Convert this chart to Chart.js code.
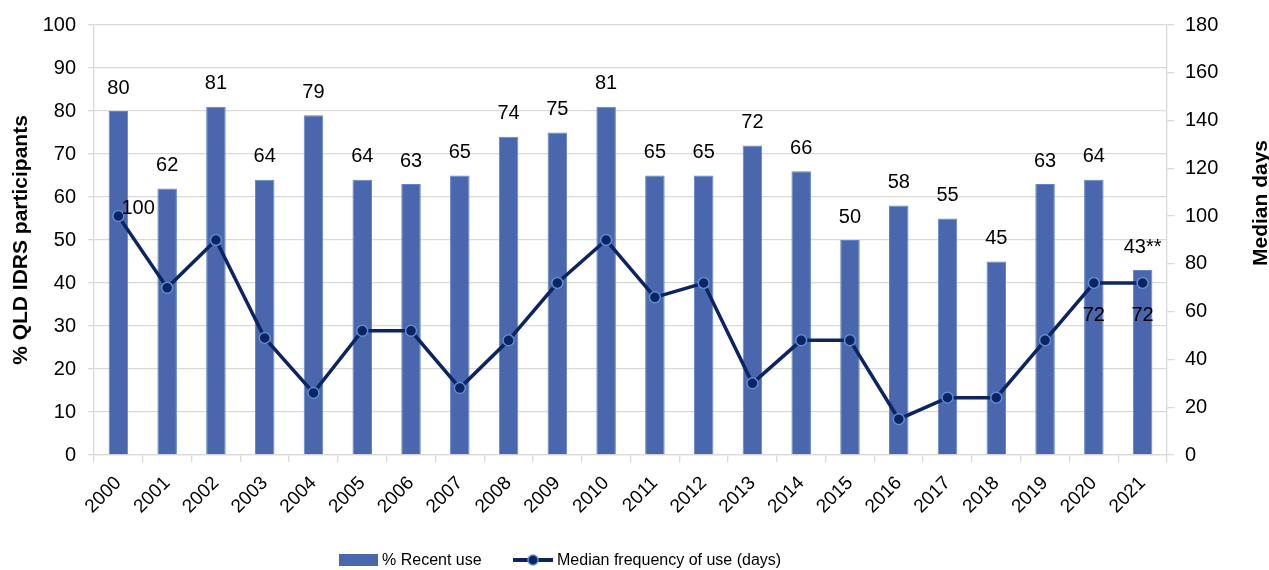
<!DOCTYPE html>
<html>
<head>
<meta charset="utf-8">
<script src="https://cdn.jsdelivr.net/npm/chart.js@4.4.1/dist/chart.umd.min.js"></script>
<style>
  html, body { margin: 0; padding: 0; background: #fff; }
  canvas { display: block; }
</style>
</head>
<body>
<canvas id="chart" width="1269" height="570"></canvas>
<script>
const years = ['2000', '2001', '2002', '2003', '2004', '2005', '2006', '2007', '2008', '2009', '2010',
               '2011', '2012', '2013', '2014', '2015', '2016', '2017', '2018', '2019', '2020', '2021'];
const recentUse = [80, 62, 81, 64, 79, 64, 63, 65, 74, 75, 81, 65, 65, 72, 66, 50, 58, 55, 45, 63, 64, 43];
const recentUseNotes = ['', '', '', '', '', '', '', '', '', '', '', '', '', '', '', '', '', '', '', '', '', '**'];
const medianDays = [100, 70, 90, 49, 26, 52, 52, 28, 48, 72, 90, 66, 72, 30, 48, 48, 15, 24, 24, 48, 72, 72];
// only these points carry a value label on the line
const labelledMedian = [0, 20, 21];

const BAR = '#4a66ac';
const LINE = '#0c2462';
const GRID = '#d9d9d9';
const FONT = '"Liberation Sans", Arial, sans-serif';

// value labels, axis titles and legend
const extras = {
  id: 'extras',
  afterDatasetsDraw(chart) {
    const ctx = chart.ctx;
    ctx.save();
    ctx.fillStyle = '#000';
    ctx.font = '20px ' + FONT;
    ctx.textAlign = 'center';
    ctx.textBaseline = 'middle';
    chart.getDatasetMeta(0).data.forEach((bar, i) => {
      ctx.fillText(recentUse[i] + recentUseNotes[i], bar.x, bar.y - 23);
    });
    const pts = chart.getDatasetMeta(1).data;
    labelledMedian.forEach(i => {
      const p = pts[i];
      if (i === 0) {
        ctx.textAlign = 'left';
        ctx.fillText(String(medianDays[i]), p.x + 3, p.y - 8);
      } else {
        ctx.textAlign = 'center';
        ctx.fillText(String(medianDays[i]), p.x, p.y + 32);
      }
    });
    ctx.restore();
  },
  afterDraw(chart) {
    const ctx = chart.ctx;
    ctx.save();
    ctx.fillStyle = '#000';
    ctx.font = 'bold 21px ' + FONT;
    ctx.textAlign = 'center';
    ctx.textBaseline = 'middle';
    [['% QLD IDRS participants', 21, 240], ['Median days', 1261, 203]].forEach(([t, x, y]) => {
      ctx.save();
      ctx.translate(x, y);
      ctx.rotate(-Math.PI / 2);
      ctx.fillText(t, 0, 0);
      ctx.restore();
    });

    // legend
    const ly = 560;
    ctx.font = '16px ' + FONT;
    ctx.textAlign = 'left';
    ctx.fillStyle = BAR;
    ctx.fillRect(339, ly - 6, 39, 12);
    ctx.fillStyle = '#000';
    ctx.fillText('% Recent use', 382, ly + 1);
    ctx.strokeStyle = LINE;
    ctx.lineWidth = 4;
    ctx.beginPath();
    ctx.moveTo(513, ly);
    ctx.lineTo(553, ly);
    ctx.stroke();
    ctx.beginPath();
    ctx.arc(533, ly, 5, 0, Math.PI * 2);
    ctx.fillStyle = LINE;
    ctx.fill();
    ctx.lineWidth = 1.5;
    ctx.strokeStyle = '#5b8fd0';
    ctx.stroke();
    ctx.fillStyle = '#000';
    ctx.fillText('Median frequency of use (days)', 557, ly + 1);
    ctx.restore();
  }
};

new Chart(document.getElementById('chart'), {
  data: {
    labels: years,
    datasets: [
      {
        type: 'bar',
        label: '% Recent use',
        data: recentUse,
        backgroundColor: BAR,
        borderColor: '#6383c8',
        borderWidth: 1,
        categoryPercentage: 1,
        barPercentage: 0.4,
        yAxisID: 'y',
        order: 1
      },
      {
        type: 'line',
        label: 'Median frequency of use (days)',
        data: medianDays,
        borderColor: LINE,
        borderWidth: 3.5,
        pointRadius: 5.5,
        pointBackgroundColor: LINE,
        pointBorderColor: '#5b8fd0',
        pointBorderWidth: 1.5,
        tension: 0,
        yAxisID: 'y1',
        order: 0
      }
    ]
  },
  options: {
    responsive: false,
    animation: false,
    layout: { padding: { top: 25, bottom: 0, left: 0, right: 0 } },
    plugins: {
      legend: { display: false },
      tooltip: { enabled: false }
    },
    scales: {
      x: {
        offset: true,
        afterFit: s => { s.height = 115; },
        grid: { offset: true, drawOnChartArea: false, color: GRID, tickLength: 7, lineWidth: 1.3 },
        border: { display: true, color: GRID, width: 1.3 },
        ticks: { color: '#000', font: { family: FONT, size: 19 }, minRotation: 45, maxRotation: 45, padding: 10 }
      },
      y: {
        position: 'left',
        min: 0,
        max: 100,
        afterFit: s => { s.width = 94; },
        grid: { color: GRID, tickLength: 6, lineWidth: 1.3 },
        border: { display: true, color: GRID, width: 1.3 },
        ticks: { stepSize: 10, color: '#000', font: { family: FONT, size: 20 }, padding: 12 }
      },
      y1: {
        position: 'right',
        min: 0,
        max: 180,
        afterFit: s => { s.width = 102; },
        grid: { drawOnChartArea: false, color: GRID, tickLength: 7, lineWidth: 1.3 },
        border: { display: true, color: GRID, width: 1.3 },
        ticks: { stepSize: 20, color: '#000', font: { family: FONT, size: 20 }, padding: 11 }
      }
    }
  },
  plugins: [extras]
});
</script>
</body>
</html>
